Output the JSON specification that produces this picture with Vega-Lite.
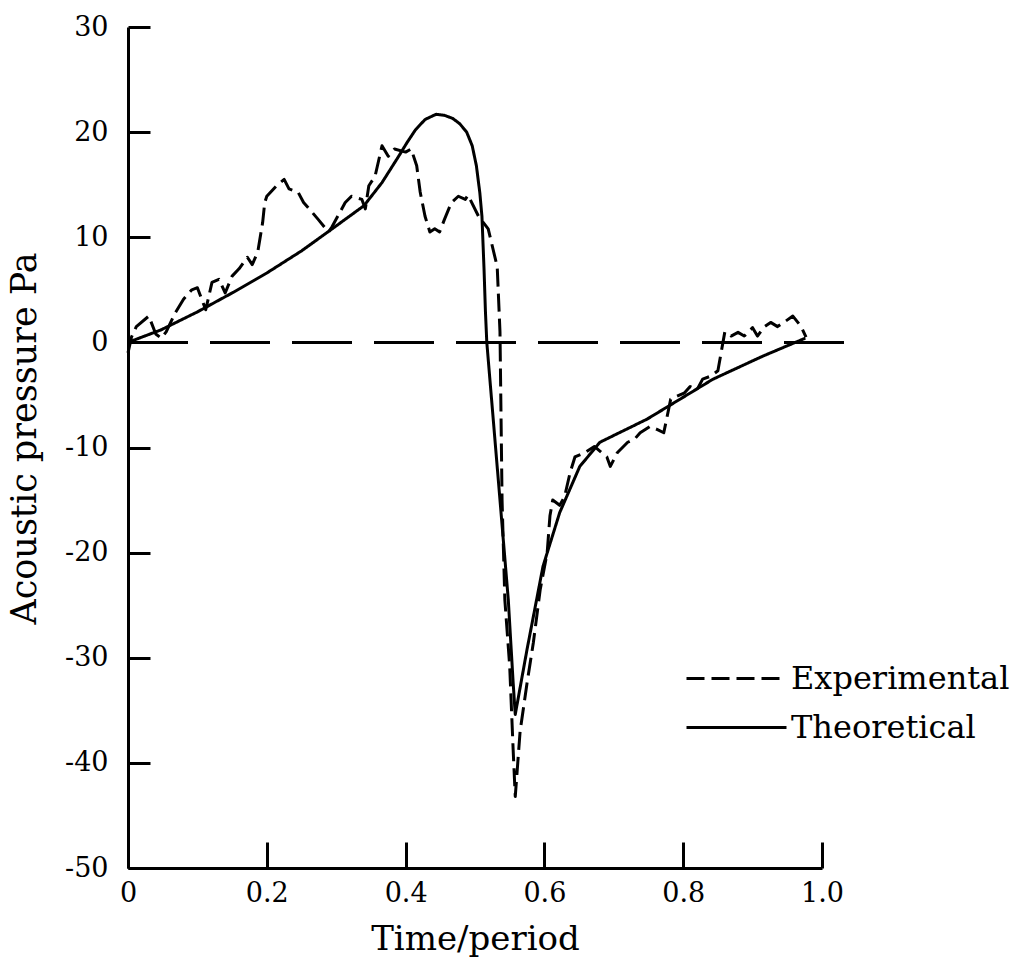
{
  "$schema": "https://vega.github.io/schema/vega-lite/v6.json",
  "width": 694,
  "height": 841,
  "autosize": {"type": "none"},
  "padding": {"left": 128, "top": 27, "right": 188, "bottom": 92},
  "background": "white",
  "config": {
    "view": {"stroke": null},
    "font": "DejaVu Serif",
    "axis": {
      "grid": false,
      "domainColor": "black",
      "domainWidth": 3,
      "tickColor": "black",
      "tickWidth": 3,
      "labelColor": "black",
      "titleColor": "black",
      "labelFont": "DejaVu Serif",
      "titleFont": "DejaVu Serif",
      "labelFontWeight": "normal",
      "titleFontWeight": "normal",
      "labelOverlap": false,
      "labelFlush": false
    }
  },
  "layer": [
    {
      "data": {
        "values": [
          {"series": "Theoretical", "x": 0, "y": 0},
          {"series": "Theoretical", "x": 0.02, "y": 0.5},
          {"series": "Theoretical", "x": 0.048, "y": 1.2},
          {"series": "Theoretical", "x": 0.1, "y": 2.9},
          {"series": "Theoretical", "x": 0.15, "y": 4.7},
          {"series": "Theoretical", "x": 0.2, "y": 6.6},
          {"series": "Theoretical", "x": 0.25, "y": 8.7},
          {"series": "Theoretical", "x": 0.29, "y": 10.6},
          {"series": "Theoretical", "x": 0.34, "y": 13.0},
          {"series": "Theoretical", "x": 0.366, "y": 15.2},
          {"series": "Theoretical", "x": 0.39, "y": 17.7},
          {"series": "Theoretical", "x": 0.402, "y": 19.0},
          {"series": "Theoretical", "x": 0.414, "y": 20.2},
          {"series": "Theoretical", "x": 0.428, "y": 21.2},
          {"series": "Theoretical", "x": 0.444, "y": 21.7},
          {"series": "Theoretical", "x": 0.456, "y": 21.6},
          {"series": "Theoretical", "x": 0.468, "y": 21.3},
          {"series": "Theoretical", "x": 0.478, "y": 20.8},
          {"series": "Theoretical", "x": 0.488, "y": 20.0},
          {"series": "Theoretical", "x": 0.496, "y": 18.7},
          {"series": "Theoretical", "x": 0.502, "y": 16.8},
          {"series": "Theoretical", "x": 0.507, "y": 14.2},
          {"series": "Theoretical", "x": 0.51, "y": 12.0},
          {"series": "Theoretical", "x": 0.513, "y": 7.0},
          {"series": "Theoretical", "x": 0.515, "y": 3.0},
          {"series": "Theoretical", "x": 0.517, "y": 0},
          {"series": "Theoretical", "x": 0.536, "y": -15},
          {"series": "Theoretical", "x": 0.548, "y": -24.5},
          {"series": "Theoretical", "x": 0.555, "y": -32.4},
          {"series": "Theoretical", "x": 0.558, "y": -35.4},
          {"series": "Theoretical", "x": 0.575, "y": -29.2},
          {"series": "Theoretical", "x": 0.598, "y": -21.3},
          {"series": "Theoretical", "x": 0.622, "y": -16.2},
          {"series": "Theoretical", "x": 0.651, "y": -11.8},
          {"series": "Theoretical", "x": 0.68, "y": -9.5},
          {"series": "Theoretical", "x": 0.748, "y": -7.3},
          {"series": "Theoretical", "x": 0.843, "y": -3.5},
          {"series": "Theoretical", "x": 0.915, "y": -1.3},
          {"series": "Theoretical", "x": 0.976, "y": 0.4},
          {"series": "Experimental", "x": 0, "y": -1},
          {"series": "Experimental", "x": 0.005, "y": 0.5},
          {"series": "Experimental", "x": 0.012, "y": 1.5},
          {"series": "Experimental", "x": 0.03, "y": 2.5},
          {"series": "Experimental", "x": 0.04, "y": 0.8},
          {"series": "Experimental", "x": 0.048, "y": 0.4},
          {"series": "Experimental", "x": 0.055, "y": 1.0},
          {"series": "Experimental", "x": 0.068, "y": 2.8},
          {"series": "Experimental", "x": 0.08, "y": 4.1},
          {"series": "Experimental", "x": 0.092, "y": 5.0},
          {"series": "Experimental", "x": 0.1, "y": 5.2},
          {"series": "Experimental", "x": 0.112, "y": 3.1},
          {"series": "Experimental", "x": 0.121, "y": 5.7},
          {"series": "Experimental", "x": 0.131, "y": 6.0},
          {"series": "Experimental", "x": 0.14, "y": 4.7},
          {"series": "Experimental", "x": 0.15, "y": 6.3},
          {"series": "Experimental", "x": 0.16, "y": 7.0},
          {"series": "Experimental", "x": 0.172, "y": 8.1},
          {"series": "Experimental", "x": 0.179, "y": 7.4},
          {"series": "Experimental", "x": 0.187, "y": 8.6},
          {"series": "Experimental", "x": 0.194, "y": 11.4},
          {"series": "Experimental", "x": 0.197, "y": 13.3},
          {"series": "Experimental", "x": 0.2, "y": 13.9},
          {"series": "Experimental", "x": 0.214, "y": 14.9},
          {"series": "Experimental", "x": 0.225, "y": 15.5},
          {"series": "Experimental", "x": 0.232, "y": 14.6},
          {"series": "Experimental", "x": 0.245, "y": 14.3},
          {"series": "Experimental", "x": 0.253, "y": 13.3},
          {"series": "Experimental", "x": 0.265, "y": 12.4},
          {"series": "Experimental", "x": 0.274, "y": 11.7},
          {"series": "Experimental", "x": 0.289, "y": 10.5},
          {"series": "Experimental", "x": 0.294, "y": 11.0},
          {"series": "Experimental", "x": 0.313, "y": 13.3},
          {"series": "Experimental", "x": 0.322, "y": 13.9},
          {"series": "Experimental", "x": 0.337, "y": 13.6},
          {"series": "Experimental", "x": 0.342, "y": 12.7},
          {"series": "Experimental", "x": 0.347, "y": 14.9},
          {"series": "Experimental", "x": 0.356, "y": 15.8},
          {"series": "Experimental", "x": 0.366, "y": 18.7},
          {"series": "Experimental", "x": 0.375, "y": 17.7},
          {"series": "Experimental", "x": 0.384, "y": 18.4},
          {"series": "Experimental", "x": 0.4, "y": 18.1},
          {"series": "Experimental", "x": 0.408, "y": 18.4},
          {"series": "Experimental", "x": 0.416, "y": 16.8},
          {"series": "Experimental", "x": 0.421, "y": 14.3},
          {"series": "Experimental", "x": 0.428, "y": 12.0},
          {"series": "Experimental", "x": 0.435, "y": 10.5},
          {"series": "Experimental", "x": 0.442, "y": 10.8},
          {"series": "Experimental", "x": 0.449, "y": 10.5},
          {"series": "Experimental", "x": 0.456, "y": 11.7},
          {"series": "Experimental", "x": 0.466, "y": 13.3},
          {"series": "Experimental", "x": 0.476, "y": 13.9},
          {"series": "Experimental", "x": 0.486, "y": 13.6},
          {"series": "Experimental", "x": 0.49, "y": 14.0},
          {"series": "Experimental", "x": 0.505, "y": 12.0},
          {"series": "Experimental", "x": 0.519, "y": 10.8},
          {"series": "Experimental", "x": 0.532, "y": 7.2},
          {"series": "Experimental", "x": 0.536, "y": 1.0},
          {"series": "Experimental", "x": 0.539, "y": -15},
          {"series": "Experimental", "x": 0.543, "y": -24.5},
          {"series": "Experimental", "x": 0.55, "y": -30.8},
          {"series": "Experimental", "x": 0.555, "y": -38.8},
          {"series": "Experimental", "x": 0.558, "y": -43.2},
          {"series": "Experimental", "x": 0.565, "y": -37},
          {"series": "Experimental", "x": 0.575, "y": -32.4},
          {"series": "Experimental", "x": 0.584, "y": -28.6},
          {"series": "Experimental", "x": 0.594, "y": -23.5},
          {"series": "Experimental", "x": 0.604, "y": -20},
          {"series": "Experimental", "x": 0.608, "y": -16.5},
          {"series": "Experimental", "x": 0.612, "y": -15},
          {"series": "Experimental", "x": 0.622, "y": -15.5},
          {"series": "Experimental", "x": 0.629, "y": -14.7},
          {"series": "Experimental", "x": 0.637, "y": -12.4},
          {"series": "Experimental", "x": 0.644, "y": -10.9},
          {"series": "Experimental", "x": 0.658, "y": -10.5},
          {"series": "Experimental", "x": 0.672, "y": -9.9},
          {"series": "Experimental", "x": 0.69, "y": -10.9},
          {"series": "Experimental", "x": 0.695, "y": -11.8},
          {"series": "Experimental", "x": 0.705, "y": -10.5},
          {"series": "Experimental", "x": 0.72, "y": -9.5},
          {"series": "Experimental", "x": 0.73, "y": -9.2},
          {"series": "Experimental", "x": 0.738, "y": -8.6},
          {"series": "Experimental", "x": 0.752, "y": -8.0},
          {"series": "Experimental", "x": 0.763, "y": -8.3},
          {"series": "Experimental", "x": 0.772, "y": -8.6},
          {"series": "Experimental", "x": 0.777, "y": -7.0},
          {"series": "Experimental", "x": 0.782, "y": -5.4},
          {"series": "Experimental", "x": 0.802, "y": -4.8},
          {"series": "Experimental", "x": 0.81, "y": -4.2},
          {"series": "Experimental", "x": 0.82, "y": -4.5},
          {"series": "Experimental", "x": 0.828, "y": -3.5},
          {"series": "Experimental", "x": 0.84, "y": -3.2},
          {"series": "Experimental", "x": 0.85, "y": -2.7},
          {"series": "Experimental", "x": 0.86, "y": 1.0},
          {"series": "Experimental", "x": 0.869, "y": 0.6},
          {"series": "Experimental", "x": 0.879, "y": 0.95},
          {"series": "Experimental", "x": 0.888, "y": 0.6},
          {"series": "Experimental", "x": 0.9, "y": 1.4},
          {"series": "Experimental", "x": 0.907, "y": 0.6},
          {"series": "Experimental", "x": 0.917, "y": 1.5},
          {"series": "Experimental", "x": 0.926, "y": 1.9},
          {"series": "Experimental", "x": 0.936, "y": 1.5},
          {"series": "Experimental", "x": 0.945, "y": 1.9},
          {"series": "Experimental", "x": 0.958, "y": 2.5},
          {"series": "Experimental", "x": 0.97, "y": 1.5},
          {"series": "Experimental", "x": 0.977, "y": 0.5}
        ]
      },
      "mark": {"type": "line", "color": "black", "strokeWidth": 3, "strokeJoin": "round"},
      "encoding": {
        "x": {
          "field": "x",
          "type": "quantitative",
          "scale": {"domain": [0, 1], "nice": false, "zero": false},
          "axis": {
            "values": [0, 0.2, 0.4, 0.6, 0.8, 1.0],
            "tickSize": -26,
            "labelPadding": 38,
            "labelFontSize": 27,
            "labelExpr": "datum.value == 0 ? '0' : format(datum.value, '.1f')",
            "title": "Time/period",
            "titleFontSize": 34,
            "titleX": 347,
            "titleY": 81,
            "titleBaseline": "alphabetic",
            "titleAlign": "center",
            "titleAnchor": null
          }
        },
        "y": {
          "field": "y",
          "type": "quantitative",
          "scale": {"domain": [-50, 30], "nice": false, "zero": false},
          "axis": {
            "values": [-50, -40, -30, -20, -10, 0, 10, 20, 30],
            "tickSize": -22,
            "labelPadding": 42,
            "labelFontSize": 27,
            "labelExpr": "datum.value < 0 ? '-' + abs(datum.value) : '' + datum.value",
            "title": "Acoustic pressure Pa",
            "titleFontSize": 35,
            "titleAngle": -90,
            "titleX": -93,
            "titleY": 411,
            "titleBaseline": "alphabetic",
            "titleAlign": "center",
            "titleAnchor": null
          }
        },
        "strokeDash": {
          "field": "series",
          "type": "nominal",
          "scale": {"domain": ["Experimental", "Theoretical"], "range": [[18, 7], [1, 0]]},
          "legend": {
            "orient": "none",
            "legendX": 582,
            "legendY": 625,
            "title": null,
            "symbolType": "M-2,0H2",
            "symbolSize": 2500,
            "symbolStrokeWidth": 3,
            "symbolStrokeColor": "black",
            "labelFontSize": 32,
            "labelFont": "DejaVu Serif",
            "labelColor": "black",
            "labelOffset": 28,
            "labelLimit": 0,
            "rowPadding": 6,
            "padding": 0,
            "encode": {
              "symbols": {
                "update": {
                  "strokeDash": {"signal": "datum.value === 'Experimental' ? [28, 9] : [1, 0]"}
                }
              }
            }
          }
        }
      }
    },
    {
      "data": {"values": [{"x": 0, "x2": 1.043, "y": 0}]},
      "mark": {"type": "rule", "color": "black", "strokeWidth": 3, "strokeDash": [60, 22]},
      "encoding": {
        "x": {"field": "x", "type": "quantitative"},
        "x2": {"field": "x2"},
        "y": {"field": "y", "type": "quantitative"}
      }
    }
  ]
}
